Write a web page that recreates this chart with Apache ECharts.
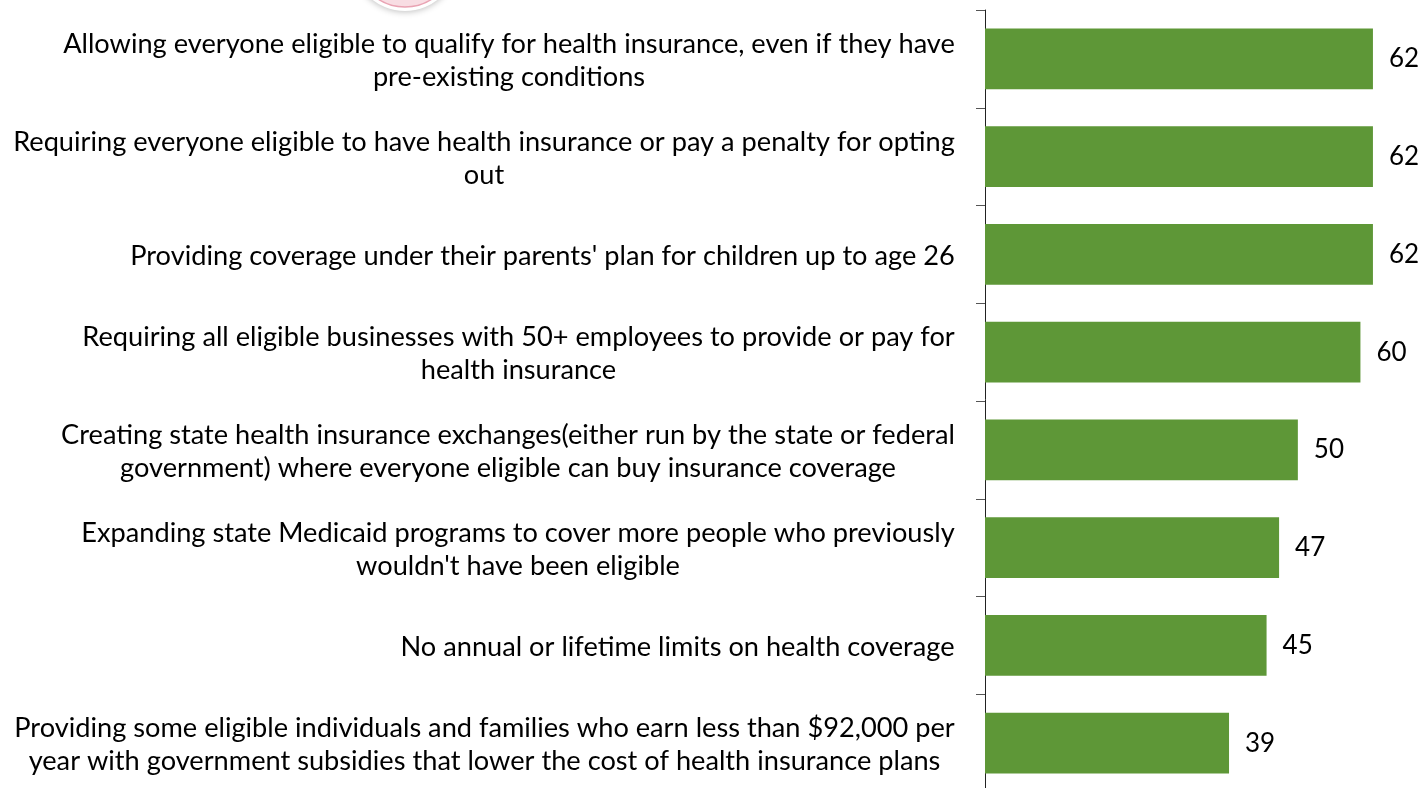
<!DOCTYPE html>
<html>
<head>
<meta charset="utf-8">
<script src="https://cdn.jsdelivr.net/npm/echarts@6/dist/echarts.min.js"></script>
<style>
  html, body { margin: 0; padding: 0; background: #ffffff; }
  #chart { width: 1424px; height: 788px; }
</style>
</head>
<body>
<div id="chart"></div>
<script>
// Provisions of the health care law, top to bottom
const categories = [
  "Allowing everyone eligible to qualify for health insurance, even if they have\npre-existing conditions",
  "Requiring everyone eligible to have health insurance or pay a penalty for opting\nout",
  "Providing coverage under their parents' plan for children up to age 26",
  "Requiring all eligible businesses with 50+ employees to provide or pay for\nhealth insurance",
  "Creating state health insurance exchanges(either run by the state or federal\ngovernment) where everyone eligible can buy insurance coverage",
  "Expanding state Medicaid programs to cover more people who previously\nwouldn't have been eligible",
  "No annual or lifetime limits on health coverage",
  "Providing some eligible individuals and families who earn less than $92,000 per\nyear with government subsidies that lower the cost of health insurance plans"
];
const values = [62, 62, 62, 60, 50, 47, 45, 39];

const FONT = 'Lato';
const LABEL_SIZE = 27.2;
const VALUE_SIZE = 26;

// Each multi-line label is centred within its own block; measure the block width.
const ctx = document.createElement('canvas').getContext('2d');
ctx.font = LABEL_SIZE + 'px ' + FONT;
const rich = {};
categories.forEach(function (c, i) {
  const w = Math.ceil(Math.max.apply(null, c.split('\n').map(function (l) { return ctx.measureText(l).width; })));
  rich['c' + i] = {
    width: w, align: 'center', fontFamily: FONT, fontSize: LABEL_SIZE,
    color: '#000000', lineHeight: 33
  };
});

const chart = echarts.init(document.getElementById('chart'), null, { renderer: 'canvas' });
chart.setOption({
  backgroundColor: '#ffffff',
  animation: false,
  grid: { left: 985, width: 438, top: 10, height: 782, containLabel: false, outerBoundsMode: 'none' },
  xAxis: {
    type: 'value', min: 0, max: 70, show: false
  },
  yAxis: {
    type: 'category',
    inverse: true,
    data: categories,
    axisLine: { show: true, lineStyle: { color: '#222222', width: 1 } },
    axisTick: { show: true, length: 9, lineStyle: { color: '#555555', width: 1 } },
    axisLabel: {
      margin: 30,
      align: 'right',
      padding: [4, 0, 0, 0],
      formatter: function (value, idx) {
        return value.split('\n').map(function (l) { return '{c' + idx + '|' + l + '}'; }).join('\n');
      },
      rich: rich
    }
  },
  series: [{
    type: 'bar',
    data: values,
    barCategoryGap: '37.6%',
    itemStyle: { color: '#5E9737' },
    label: {
      show: true, position: 'right', distance: 16,
      fontFamily: FONT, fontSize: VALUE_SIZE, color: '#000000'
    }
  }],
  graphic: [
    { type: 'circle', shape: { cx: 405, cy: -42, r: 53 },
      style: { fill: '#ffffff', shadowBlur: 6, shadowColor: 'rgba(0,0,0,0.25)', shadowOffsetY: 1 } },
    { type: 'circle', shape: { cx: 405, cy: -42, r: 49 },
      style: { fill: '#f8dde3', stroke: '#e9a3b3', lineWidth: 1.5 } }
  ]
});
</script>
</body>
</html>
